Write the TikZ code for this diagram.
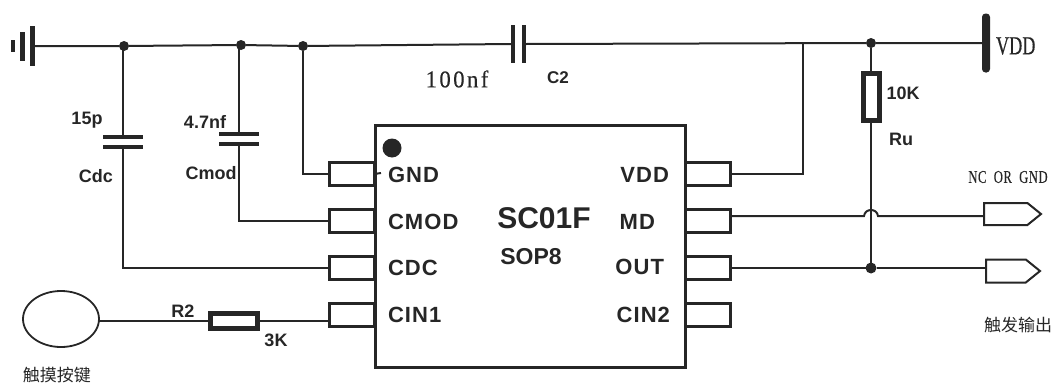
\documentclass[tikz,border=0pt]{standalone}
\usepackage{fontspec}
\usepackage{tikz}
\usetikzlibrary{positioning}
\usetikzlibrary{shapes.symbols}
\usetikzlibrary{shapes.geometric}
\setmainfont{Liberation Sans}
\newfontfamily\pinfont[LetterSpace=5]{Liberation Sans Bold}
\newfontfamily\narrowfont[FakeStretch=0.7,FakeBold=0.4]{Liberation Serif}
\newfontfamily\spacedfont[FakeStretch=0.95,LetterSpace=10,FakeBold=0.3]{Liberation Serif}
\newfontfamily\smallfont[FakeStretch=0.7,LetterSpace=3,FakeBold=0.3]{Liberation Serif}
\newfontfamily\cjk{Noto Sans CJK SC}
\definecolor{ink}{HTML}{262626}

\begin{document}
\begin{tikzpicture}[
    x=1pt, y=-1pt,
    every node/.style = {text=ink, inner sep=0pt, outer sep=0pt},
    wire/.style = {draw=ink, line width=2pt},
    pinbox/.style = {draw=ink, line width=3pt, minimum width=45pt, minimum height=23pt},
    plate/.style = {fill=ink, minimum width=40pt, minimum height=4pt},
    vplate/.style = {fill=ink, minimum width=4pt, minimum height=38pt},
    dot/.style = {fill=ink, circle, minimum size=10pt},
    resbox/.style = {draw=ink, fill=white, line width=5pt},
    port/.style = {draw=ink, line width=2pt, signal, signal to=east, signal pointer angle=78, anchor=west},
    tag/.style = {font=\bfseries\fontsize{18}{20}\selectfont},
    pinname/.style = {font=\pinfont\fontsize{22}{24}\selectfont},
    cjktext/.style = {font=\cjk\fontsize{17}{19}\selectfont}
]
\useasboundingbox (0,0) rectangle (1052,383);

% chip
\node[draw=ink, line width=3pt, minimum width=310pt, minimum height=242pt] (chip) at (530,246) {};
\node[fill=ink, circle, minimum size=19pt] (mark) at (392,148) {};
\node[font=\bfseries\fontsize{30}{32}\selectfont] (name) at (544,218) {SC01F};
\node[font=\bfseries\fontsize{23}{25}\selectfont, below=20pt of name, xshift=-13pt] (package) {SOP8};

% pins
\node[pinbox] (pingnd) at (352,174) {};
\node[pinbox, below=24pt of pingnd] (pincmod) {};
\node[pinbox, below=24pt of pincmod] (pincdc) {};
\node[pinbox, below=24pt of pincdc] (pincin) {};
\node[pinbox] (pinvdd) at (708,174) {};
\node[pinbox, below=24pt of pinvdd] (pinmd) {};
\node[pinbox, below=24pt of pinmd] (pinout) {};
\node[pinbox, below=24pt of pinout] (pinctwo) {};

\node[pinname, anchor=west] (lgnd) at (388,175) {GND};
\node[pinname, anchor=west] (lcmod) at (388,222) {CMOD};
\node[pinname, anchor=west] (lcdc) at (388,268) {CDC};
\node[pinname, anchor=west] (lcin) at (388,315) {CIN1};
\node[pinname, anchor=east] (lvdd) at (669,175) {VDD};
\node[pinname, anchor=east] (lmd) at (655,222) {MD};
\node[pinname, anchor=east] (lout) at (664,267) {OUT};
\node[pinname, anchor=east] (lctwo) at (670,315) {CIN2};

% ground and supply
\node[fill=ink, minimum width=5pt, minimum height=40pt] (gnda) at (32,46) {};
\node[fill=ink, minimum width=5pt, minimum height=29pt] (gndb) at (22,46) {};
\node[fill=ink, minimum width=4pt, minimum height=12pt] (gndc) at (13,46) {};
\node[fill=ink, rounded corners=3.5pt, minimum width=8pt, minimum height=59pt] (vddbar) at (986,43) {};
\node[anchor=west, font=\narrowfont\fontsize{26}{28}\selectfont] (vddname) at (996,46) {VDD};

% junctions
\node[dot] (dota) at (124,46) {};
\node[dot] (dotb) at (241,45) {};
\node[dot] (dotc) at (303,46) {};
\node[dot] (dotd) at (871,43) {};
\node[dot, minimum size=11pt] (dote) at (871,268) {};

% capacitors
\node[vplate] (ctwol) at (513,44) {};
\node[vplate] (ctwor) at (524,44) {};
\node[plate] (cdca) at (123,137) {};
\node[plate] (cdcb) at (123,147) {};
\node[plate] (cmoda) at (239,134) {};
\node[plate] (cmodb) at (239,144) {};

% resistors
\node[resbox, minimum width=16pt, minimum height=47pt] (ru) at (871,97) {};
\node[resbox, minimum width=47pt, minimum height=15pt] (rtwo) at (234,321) {};

% touch key and outputs
\node[draw=ink, line width=1.8pt, ellipse, minimum width=76pt, minimum height=56pt] (key) at (61,319) {};
\node[port, minimum width=57pt, minimum height=22pt] (portnc) at (984,214) {};
\node[port, minimum width=54pt, minimum height=23pt] (portout) at (986,271) {};

% helper points
\coordinate (railbend) at (803,43);
\coordinate (gndstub) at (381,173);
\coordinate (hopl) at (864,216);
\coordinate (hopr) at (878,216);
\coordinate (outwire) at (871,268);

% wires
\draw[wire] (gnda.east) -- (dota) -- (dotb) -- (dotc) -- (ctwol.west);
\draw[wire] (ctwor.east) -- (dotd) -- (vddbar.west);
\draw[wire] (cdca.north) -- (cdca.north |- dota);
\draw[wire] (cdcb.south) |- (pincdc.west);
\draw[wire] (cmoda.north) -- (cmoda.north |- dotb);
\draw[wire] (cmodb.south) |- (pincmod.west);
\draw[wire] (dotc) |- (pingnd.west);
\draw[wire] (pingnd.east) -- (gndstub);
\draw[wire] (railbend) |- (pinvdd.east);
\draw[wire] (dotd) -- (ru.north);
\draw[wire] (ru.south) -- (dote);
\draw[wire] (pinmd.east |- hopl) -- (hopl) .. controls +(1,-8) and +(-1,-8) .. (hopr) -- (portnc.west |- hopr);
\draw[wire] (pinout.east |- outwire) -- (dote) -- (portout.west |- outwire);
\draw[wire] (key.east |- rtwo.west) -- (rtwo.west);
\draw[wire] (rtwo.east) -- (pincin.west |- rtwo.east);

% labels
\node[tag] (cdcval) at (87,120) {15p};
\node[tag] (cdcname) at (96,176) {Cdc};
\node[tag] (cmodval) at (205,122) {4.7nf};
\node[tag] (cmodname) at (211,173) {Cmod};
\node[font=\spacedfont\fontsize{24}{26}\selectfont] (ctwoval) at (457,79) {100nf};
\node[font=\bfseries\fontsize{17}{19}\selectfont] (ctwoname) at (558,78) {C2};
\node[tag] (ruval) at (903,93) {10K};
\node[tag] (runame) at (901,139) {Ru};
\node[tag] (rtwoname) at (183,311) {R2};
\node[tag] (rtwoval) at (276,340) {3K};
\node[font=\smallfont\fontsize{18}{20}\selectfont] (ncname) at (1008,177) {NC\ \ OR\ \ GND};
\node[cjktext] (keyname) at (57,375) {触摸按键};
\node[cjktext] (outname) at (1018,325) {触发输出};
\end{tikzpicture}
\end{document}
